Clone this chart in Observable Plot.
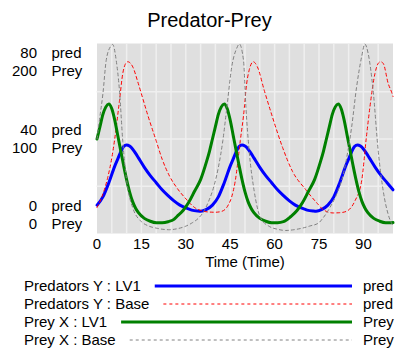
<!DOCTYPE html>
<html><head><meta charset="utf-8">
<script src="https://cdn.jsdelivr.net/npm/d3@7"></script>
<script src="https://cdn.jsdelivr.net/npm/@observablehq/plot@0.6"></script>
<style>
body{margin:0;background:#fff;}
#wrap{position:relative;width:406px;height:353px;overflow:hidden;font-family:"Liberation Sans",Arial,sans-serif;color:#000;}
#title{position:absolute;left:0;top:10px;width:419px;text-align:center;font-size:20px;line-height:20px;}
#chart{position:absolute;left:0;top:35px;}
#legend{position:absolute;left:0;top:272px;}
</style></head>
<body><div id="wrap"><div id="title">Predator-Prey</div><div id="chart"></div><div id="legend"></div></div>
<script>
// ---- data ----
const titleText = "Predator-Prey";
const xLabel = "Time (Time)";
const xTicks = [0, 15, 30, 45, 60, 75, 90];
const gridTimes = [5,10,15,20,25,30,35,40,45,50,55,60,65,70,75,80,85,90,95];
const gridPred = [20, 40, 60];
const predTicks = [0, 40, 80];
const preyTicks = [0, 100, 200];
const predUnit = "pred";
const preyUnit = "Prey";

// Predators Y : LV1
const predLV1T = [0,2,4,6,7,8,9,10,11,12,13,14,16,18,20,22,24,26,28,30,32,34,35,37,39,41,43,45,46,47,48,49,50,51,52,53,55,57,59,61,63,65,67,69,71,73,74,76,78,80,82,84,85,86,87,88,89,90,91,92,94,96,98,100];
const predLV1V = [12,15.5,21.5,28.5,31.5,34.5,36.8,37.5,37,35.8,34,32,28,24.5,21.5,18.5,16,13.8,12,10.8,9.9,9.5,9.4,10.2,12,15.5,21.5,28.5,31.5,34.5,36.8,37.5,37,35.8,34,32,28,24.5,21.5,18.5,16,13.8,12,10.8,9.9,9.5,9.4,10.2,12,15.5,21.5,28.5,31.5,34.5,36.8,37.5,37,35.8,34,32,28,24.5,21.5,18.5];

// Predators Y : Base
const predBaseT = [0,1.5,3.6,5,5.9,7.6,8.7,9.5,10.4,12.1,13.8,15.5,17.2,20,22,24.5,27,29.8,33.2,35.5,37.7,40,42.2,44.4,45.5,46.7,48.4,49.8,50.3,51.4,52.8,54.2,56.5,59.3,62.7,66,70.5,74.8,76.4,79.8,82,84.3,87.1,89.4,91,92.2,93.9,95,95.8,96.7,98.4,99.5,100];
const predBaseV = [11,15,23.6,32,39.2,56.3,67.7,71.5,72.7,70.5,64.1,57,49.9,39.2,31.5,24.3,19.3,15,10.8,9.6,9.1,9,9.4,12.2,15.5,22.2,39.2,53.5,60.6,69.1,72.7,70.5,60.6,49.2,36.4,26.4,18.6,12.2,10.1,8.7,8.8,9.4,13.7,22.2,40.7,53.5,67.7,72,72.7,72,63.4,59.9,58];

// Prey X : LV1
const preyLV1T = [0,1,2,3,4,5,6,7,8,9,10,11,12,13,14,16,18,20,22,24,26,27,29,31,33,35,37,38,39,40,41,42,43,44,45,46,47,48,49,50,51,52,53,55,57,59,61,63,65.5,67.5,69.5,71.5,73.5,75.5,76.5,77.5,78.5,79.5,80.5,81.5,82.5,83.5,84.5,85.5,86.5,87.5,88.5,89.5,90.5,91.5,93.5,95.5,97.5,99.5,100];
const preyLV1V = [100,113,126,134,137,132,120,104,88,72,57,44,34,27,22,16,13,11.5,11.5,12.5,15,18,24,33,45,57,76,87,100,113,126,134,137,132,120,104,88,72,57,44,34,27,22,16,13,11.5,11.5,12.5,18,24,33,45,57,76,87,100,113,126,134,137,132,120,104,88,72,57,44,34,27,22,16,13,11.5,11.5,11.6];

// Prey X : Base
const preyBaseT = [0,1,2,3.1,4.6,5.3,6.5,7.6,8.7,9.5,10.4,12.1,14.9,17,20,24.5,27,29.8,32,34.3,36,37.7,39.5,41,42.5,43.9,45.5,47.2,48.1,49.5,50.3,51.4,53.1,55.3,58.2,61,63.8,66.5,69.4,72,74.8,76.5,78.6,81,83.2,84.8,86,87.7,89.4,90.5,91.6,93.3,95,96.7,98.4,99.5,100];
const preyBaseV = [100,124,148,183,198,200,183,151,98,70,48,27,12.8,8.5,5.7,4,5,7.5,11,16.3,23,34,50,70,98,134,176,196,200.5,183,134,87.5,45,16.3,7.5,4.5,3.2,4,5.7,8,11,17,27,42,62.6,88,112,155,187,200.5,190.6,151,87.5,45,20,11,9];

const legendLabels = ["Predators Y : LV1", "Predators Y : Base", "Prey X : LV1", "Prey X : Base"];
const legendUnits = [predUnit, predUnit, preyUnit, preyUnit];

// ---- styles ----
const seriesStyles = [
  {stroke: "#0000ff", strokeWidth: 3, dash: null},
  {stroke: "#ff0000", strokeWidth: 1, dash: "3,3"},
  {stroke: "#008000", strokeWidth: 3, dash: null},
  {stroke: "#808080", strokeWidth: 1, dash: "3,3"}
];
const FONT = '"Liberation Sans", Arial, sans-serif';
const preyToPred = 80 / 200; // both vertical axes share the plot area

document.getElementById("title").textContent = titleText;

const zip = (ts, vs, f) => ts.map((t, i) => ({t, v: vs[i] * f}));
const series = [
  zip(predLV1T, predLV1V, 1),
  zip(predBaseT, predBaseV, 1),
  zip(preyLV1T, preyLV1V, preyToPred),
  zip(preyBaseT, preyBaseV, preyToPred)
];

const lineMarks = series.map((data, i) => Plot.line(data, {
  x: "t", y: "v", curve: "monotone-x",
  stroke: seriesStyles[i].stroke, strokeWidth: seriesStyles[i].strokeWidth,
  strokeDasharray: seriesStyles[i].dash || undefined
}));

const labelOffsets = [[-27, -9], [-9, 9], [9, 27]];
const yLabelMarks = [];
predTicks.forEach((p, i) => {
  const [dA, dB] = labelOffsets[i];
  yLabelMarks.push(
    Plot.text([predTicks[i]], {frameAnchor: "left", y: d => d, text: d => String(d), textAnchor: "end", lineAnchor: "middle", dx: -60, dy: dA}),
    Plot.text([predTicks[i]], {frameAnchor: "left", y: d => d, text: () => predUnit, textAnchor: "start", lineAnchor: "middle", dx: -45.5, dy: dA}),
    Plot.text([preyTicks[i]], {frameAnchor: "left", y: d => d * preyToPred, text: d => String(d), textAnchor: "end", lineAnchor: "middle", dx: -60, dy: dB}),
    Plot.text([preyTicks[i]], {frameAnchor: "left", y: d => d * preyToPred, text: () => preyUnit, textAnchor: "start", lineAnchor: "middle", dx: -45.5, dy: dB})
  );
});

const chart = Plot.plot({
  width: 406, height: 237,
  marginLeft: 96.5, marginRight: 13.5, marginTop: 9, marginBottom: 39,
  style: {fontSize: "15px", fontFamily: FONT, background: "transparent", color: "#000"},
  x: {domain: [0, 100], ticks: xTicks, tickSize: 0, tickPadding: 5, label: null},
  y: {domain: [0, 80], axis: null},
  marks: [
    Plot.frame({fill: "#dfdfdf", stroke: null, insetTop: -1}),
    Plot.ruleX(gridTimes, {stroke: "#efefef", strokeWidth: 1.5}),
    Plot.ruleY(gridPred, {stroke: "#efefef", strokeWidth: 1.5}),
    ...lineMarks,
    ...yLabelMarks,
    Plot.text([xLabel], {frameAnchor: "bottom", lineAnchor: "middle", text: d => d, dy: 28.5})
  ]
});
document.getElementById("chart").appendChild(chart);

// ---- legend ----
const leg = d3.select("#legend").append("svg")
  .attr("width", 406).attr("height", 81)
  .style("font-family", FONT).style("font-size", "15px");
legendLabels.forEach((lab, i) => {
  const cy = 14 + 18 * i;
  const t = leg.append("text").attr("x", 24).attr("y", cy).attr("dy", "0.35em").text(lab);
  const w = t.node().getComputedTextLength();
  const s = seriesStyles[i];
  const ln = leg.append("line").attr("x1", 24 + w + 14).attr("x2", 352).attr("y1", cy).attr("y2", cy)
    .attr("stroke", s.stroke).attr("stroke-width", s.strokeWidth);
  if (s.dash) ln.attr("stroke-dasharray", s.dash);
  leg.append("text").attr("x", 363).attr("y", cy).attr("dy", "0.35em").text(legendUnits[i]);
});
</script>
</body></html>
